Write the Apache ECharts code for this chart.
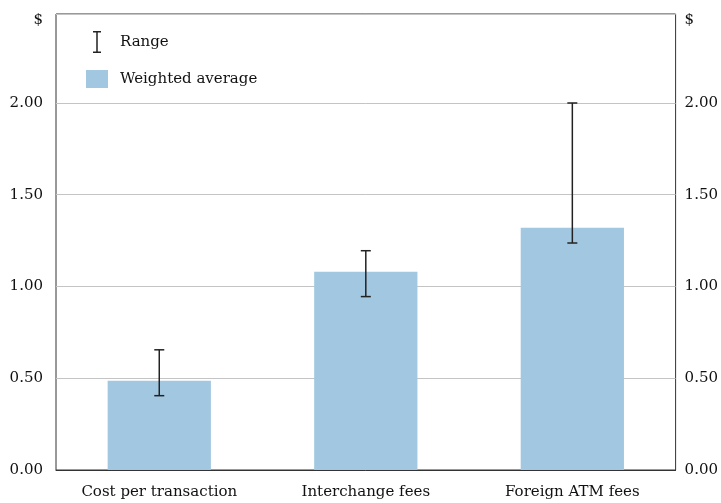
<!DOCTYPE html>
<html>
<head>
<meta charset="utf-8">
<script src="https://cdn.jsdelivr.net/npm/echarts@6/dist/echarts.min.js"></script>
<style>
  html, body { margin: 0; padding: 0; background: #fff; }
  #chart { width: 721px; height: 503px; }
</style>
</head>
<body>
<div id="chart"></div>
<script>
// data
const categories = ['Cost per transaction', 'Interchange fees', 'Foreign ATM fees']
const weightedAvg = [0.487, 1.08, 1.32]
const rangeLow = [0.405, 0.945, 1.237]
const rangeHigh = [0.655, 1.195, 2.0]
const yTicks = ['0.00', '0.50', '1.00', '1.50', '2.00']

const font = 'DejaVu Serif'
const fontSize = 15
const textColor = '#111'

// I-beam icon for the "Range" legend entry
const rangeIcon = 'path://M0,0 H8 V1.5 H4.75 V20.5 H8 V22 H0 V20.5 H3.25 V1.5 H0 Z'

const tickFormatter = v => {
  const i = Math.round(v / 0.5)
  return Math.abs(v - i * 0.5) < 1e-6 && yTicks[i] ? yTicks[i] : ''
}

const legendText = {
  fontFamily: font, fontSize: fontSize, color: textColor,
  rich: { t: { fontFamily: font, fontSize: fontSize, color: textColor, padding: [0, 0, 0, 7] } }
}

const yAxisBase = {
  type: 'value',
  min: 0,
  max: 2.485,
  interval: 0.5,
  name: '$',
  nameLocation: 'end',
  nameGap: -14,
  axisLine: { show: false },
  axisTick: { show: false }
}

const chart = echarts.init(document.getElementById('chart'))
chart.setOption({
  animation: false,
  textStyle: { fontFamily: font, color: textColor },
  grid: {
    left: 56, right: 43, top: 14, bottom: 33,
    show: true, borderColor: '#333', borderWidth: 1
  },
  legend: [
    {
      left: 88, top: 26,
      itemWidth: 22, itemHeight: 22,
      formatter: n => '{t|' + n + '}',
      textStyle: legendText,
      data: [{ name: 'Range', icon: rangeIcon, itemStyle: { color: '#222' } }]
    },
    {
      left: 81, top: 65,
      itemWidth: 22, itemHeight: 18,
      formatter: n => '{t|' + n + '}',
      textStyle: legendText,
      data: [{ name: 'Weighted average', icon: 'rect', itemStyle: { color: '#a2c8e1' } }]
    }
  ],
  xAxis: {
    type: 'category',
    data: categories,
    axisLine: { lineStyle: { color: '#333' } },
    axisTick: { show: false },
    axisLabel: { fontFamily: font, fontSize: fontSize, color: textColor, margin: 15 }
  },
  yAxis: [
    Object.assign({}, yAxisBase, {
      position: 'left',
      nameTextStyle: { fontFamily: font, fontSize: fontSize, color: textColor, align: 'right', padding: [0, 13, 0, 0] },
      splitLine: { lineStyle: { color: '#c4c4c4' } },
      axisLabel: { fontFamily: font, fontSize: fontSize, color: textColor, margin: 13, formatter: tickFormatter }
    }),
    Object.assign({}, yAxisBase, {
      position: 'right',
      nameTextStyle: { fontFamily: font, fontSize: fontSize, color: textColor, align: 'left', padding: [0, 0, 0, 9] },
      splitLine: { show: false },
      axisLabel: { fontFamily: font, fontSize: fontSize, color: textColor, margin: 9, formatter: tickFormatter }
    })
  ],
  series: [
    {
      name: 'Weighted average',
      type: 'bar',
      barWidth: '50%',
      data: weightedAvg,
      itemStyle: { color: '#a2c8e1' },
      z: 2
    },
    {
      name: 'Range',
      type: 'custom',
      itemStyle: { color: '#222' },
      encode: { x: 0, y: [1, 2] },
      data: categories.map((c, i) => [i, rangeLow[i], rangeHigh[i]]),
      renderItem: (params, api) => {
        const lo = api.coord([api.value(0), api.value(1)])
        const hi = api.coord([api.value(0), api.value(2)])
        const hw = 5
        const style = { stroke: '#222', lineWidth: 1.5 }
        return {
          type: 'group',
          children: [
            { type: 'line', shape: { x1: hi[0], y1: hi[1], x2: lo[0], y2: lo[1] }, style },
            { type: 'line', shape: { x1: hi[0] - hw, y1: hi[1], x2: hi[0] + hw, y2: hi[1] }, style },
            { type: 'line', shape: { x1: lo[0] - hw, y1: lo[1], x2: lo[0] + hw, y2: lo[1] }, style }
          ]
        }
      },
      z: 3
    }
  ]
})
</script>
</body>
</html>
